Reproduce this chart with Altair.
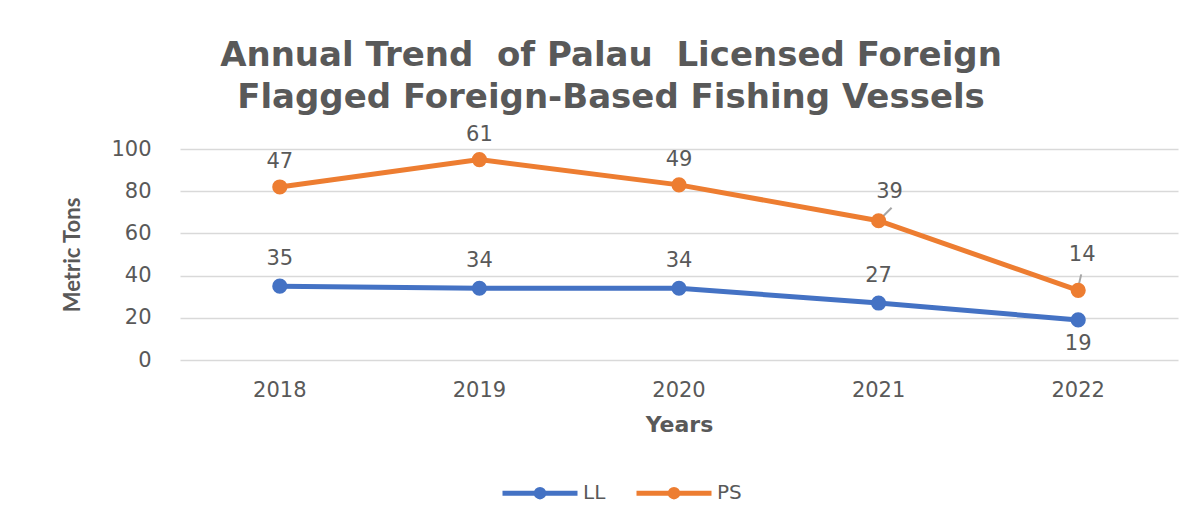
import altair as alt
import pandas as pd

years = ["2018", "2019", "2020", "2021", "2022"]
ll_values = [35, 34, 34, 27, 19]
ps_values = [47, 61, 49, 39, 14]
series_names = ["LL", "PS"]
series_colors = ["#4472C4", "#ED7D31"]

rows = []
for y, v in zip(years, ll_values):
    rows.append({"year": y, "series": "LL", "value": v})
for y, v in zip(years, ps_values):
    rows.append({"year": y, "series": "PS", "value": v})
df = pd.DataFrame(rows)

GRAY = "#595959"
NUM_FONT = "DejaVu Sans"
HEAD_FONT = "Lato"
TITLE_FONT = "DejaVu Sans"

base = alt.Chart(df).transform_stack(
    stack="value", groupby=["year"], as_=["v0", "v1"],
    sort=[alt.SortField("series", order="ascending")]
)

x_enc = alt.X("year:N", title="Years",
              scale=alt.Scale(paddingInner=0, paddingOuter=0),
              axis=alt.Axis(labelAngle=0, ticks=False, domain=False, grid=False,
                            labelPadding=19, labelFont=NUM_FONT, labelFontSize=21,
                            labelColor=GRAY, titleFont=NUM_FONT, titleFontSize=22,
                            titleFontWeight="bold", titleColor=GRAY, titlePadding=14))
y_enc = alt.Y("v1:Q", title="Metric Tons",
              scale=alt.Scale(domain=[0, 100]),
              axis=alt.Axis(values=[0, 20, 40, 60, 80, 100], ticks=False, domain=False,
                            gridColor="#D9D9D9", gridWidth=1.5, labelPadding=29,
                            labelFont=NUM_FONT, labelFontSize=21, labelColor=GRAY,
                            titleFont=HEAD_FONT, titleFontSize=22, titleFontWeight="bold",
                            titleColor=GRAY, titlePadding=26))
color_enc = alt.Color("series:N", scale=alt.Scale(domain=series_names, range=series_colors),
                      legend=alt.Legend(
                          title=None, orient="none", legendX=320, legendY=304,
                          direction="horizontal",
                          symbolType="M-1,0L1,0M-0.1,0A0.1,0.1,0,1,1,0.1,0A0.1,0.1,0,1,1,-0.1,0Z",
                          symbolSize=5625, symbolStrokeWidth=5, labelFont=NUM_FONT,
                          labelFontSize=20, labelColor=GRAY, labelOffset=3,
                          columnPadding=20))

lines = base.mark_line(strokeWidth=5).encode(x=x_enc, y=y_enc, color=color_enc)
points = base.mark_point(filled=True, opacity=1, size=230, shape="circle").encode(
    x="year:N", y="v1:Q", color=alt.Color("series:N", legend=None))

lbl = dict(font=NUM_FONT, fontSize=21, color=GRAY)
t = lambda **kw: base.mark_text(**lbl, **kw).encode(x="year:N", y="v1:Q", text="value:Q")

ll_above = t(dy=-27).transform_filter((alt.datum.series == "LL") & (alt.datum.year != "2022"))
ll_below = t(dy=24).transform_filter((alt.datum.series == "LL") & (alt.datum.year == "2022"))
ps_main = t(dy=-25).transform_filter((alt.datum.series == "PS") &
                                     (alt.datum.year != "2021") & (alt.datum.year != "2022"))
ps_2021 = t(dx=11, dy=-29).transform_filter((alt.datum.series == "PS") & (alt.datum.year == "2021"))
ps_2022 = t(dx=4, dy=-35).transform_filter((alt.datum.series == "PS") & (alt.datum.year == "2022"))

lead_2021 = base.mark_rule(color="#A6A6A6", strokeWidth=2, xOffset=3, yOffset=-3,
                           x2Offset=13, y2Offset=-13).encode(
    x="year:N", x2="year:N", y="v1:Q", y2="v1:Q").transform_filter(
    (alt.datum.series == "PS") & (alt.datum.year == "2021"))
lead_2022 = base.mark_rule(color="#A6A6A6", strokeWidth=2, xOffset=0, yOffset=-3,
                           x2Offset=3, y2Offset=-16).encode(
    x="year:N", x2="year:N", y="v1:Q", y2="v1:Q").transform_filter(
    (alt.datum.series == "PS") & (alt.datum.year == "2022"))

chart = alt.layer(lines, lead_2021, lead_2022, points, ll_above, ll_below, ps_main,
                  ps_2021, ps_2022).properties(
    width=998, height=211,
    background="white",
    autosize=alt.AutoSizeParams(type="none"),
    padding={"left": 172, "top": 141, "right": 10, "bottom": 150},
    title=alt.Title(["Annual Trend\u00a0 of Palau\u00a0 Licensed Foreign",
                     "Flagged Foreign-Based Fishing Vessels"],
                    font=TITLE_FONT, fontSize=34, fontWeight="bold", color=GRAY,
                    anchor="middle", dx=-68, offset=9, lineHeight=42)
).configure_view(stroke=None, strokeWidth=0)

chart.save("out.html", embed_options={"renderer": "svg", "actions": False})
